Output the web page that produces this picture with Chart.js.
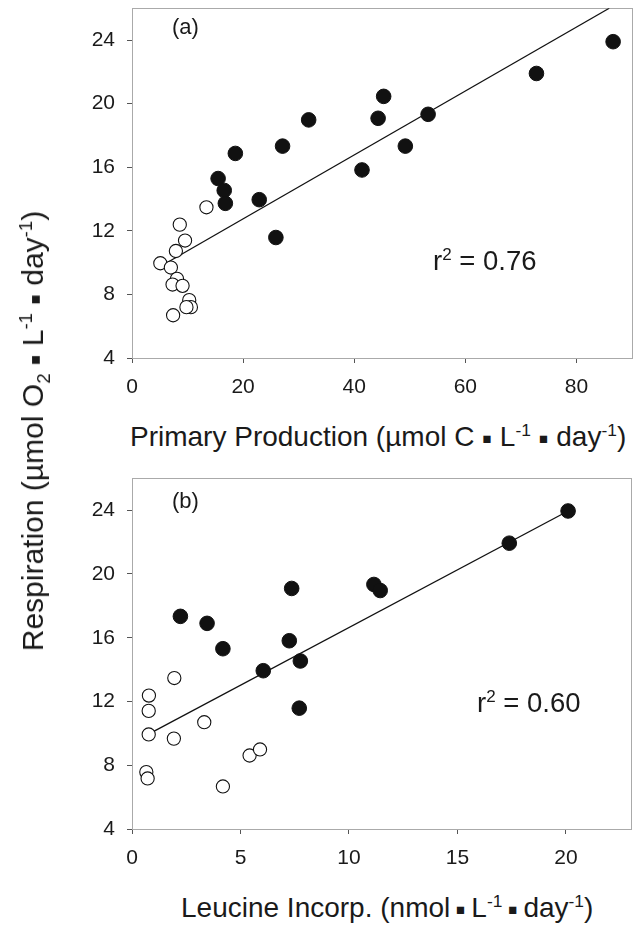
<!DOCTYPE html>
<html><head><meta charset="utf-8">
<script src="https://cdn.jsdelivr.net/npm/chart.js@4/dist/chart.umd.min.js"></script>
<style>
html,body{margin:0;padding:0;background:#fff;}
body{width:644px;height:926px;position:relative;overflow:hidden;font-family:'Liberation Sans',Arial,sans-serif;color:#1a1a1a;}
canvas{position:absolute;left:0;}
#ca{top:0;}
#cb{top:470px;}
.t{position:absolute;white-space:nowrap;line-height:1;transform:translate(-50%,-50%);}
.l{position:absolute;white-space:nowrap;line-height:1;transform:translate(0,-50%);}
sup,sub{font-size:62%;line-height:0;}
.sq{font-family:'DejaVu Sans',sans-serif;font-size:52%;vertical-align:0.2em;}
</style></head>
<body>
<canvas id="ca" width="644" height="400"></canvas>
<canvas id="cb" width="644" height="400"></canvas>

<div class="t" style="left:33px;top:431px;font-size:30px;transform:translate(-50%,-50%) rotate(-90deg);">Respiration (µmol O<sub>2</sub> <span class="sq">▪</span> L<sup>-1</sup> <span class="sq">▪</span> day<sup>-1</sup>)</div>
<div class="l" style="left:130px;top:437px;font-size:28px;">Primary Production (µmol C <span class="sq">▪</span> L<sup>-1</sup> <span class="sq">▪</span> day<sup>-1</sup>)</div>
<div class="l" style="left:181px;top:908px;font-size:28px;">Leucine Incorp. (nmol&#8201;<span class="sq">▪</span>&#8201;L<sup>-1</sup>&#8201;<span class="sq">▪</span>&#8201;day<sup>-1</sup>)</div>
<div class="l" style="left:172px;top:27px;font-size:22px;">(a)</div>
<div class="l" style="left:172px;top:501px;font-size:22px;">(b)</div>
<div class="l" style="left:433px;top:261px;font-size:27.5px;">r<sup>2</sup> = 0.76</div>
<div class="l" style="left:477px;top:703px;font-size:27.5px;">r<sup>2</sup> = 0.60</div>

<script>
// ---- Panel (a): Respiration vs Primary Production ----
const ppOpenX = [13.4, 8.6, 9.55, 7.9, 5.1, 7.0, 8.1, 7.3, 9.1, 10.3, 10.6, 9.8, 7.4];
const ppOpenY = [13.48, 12.39, 11.39, 10.73, 9.96, 9.69, 8.98, 8.62, 8.54, 7.64, 7.2, 7.2, 6.69];
const ppFillX = [86.6, 72.8, 45.3, 31.8, 44.3, 53.3, 27.1, 49.2, 18.6, 41.4, 15.5, 16.6, 16.8, 22.9, 25.9];
const ppFillY = [23.9, 21.9, 20.46, 18.98, 19.08, 19.33, 17.33, 17.33, 16.87, 15.83, 15.29, 14.54, 13.73, 13.96, 11.58];
const ppFitX = [6.5, 85.9];
const ppFitY = [10.04, 26.0];
const ppXTicks = [0, 20, 40, 60, 80];

// ---- Panel (b): Respiration vs Leucine Incorporation ----
const leuOpenX = [1.95, 0.78, 0.77, 0.77, 1.93, 3.33, 5.42, 5.9, 0.66, 0.72, 4.19];
const leuOpenY = [13.47, 12.37, 11.41, 9.93, 9.67, 10.7, 8.61, 8.99, 7.57, 7.17, 6.67];
const leuFillX = [20.1, 17.39, 11.15, 11.44, 7.36, 2.23, 3.46, 4.19, 7.25, 7.76, 6.05, 7.71];
const leuFillY = [23.95, 21.93, 19.34, 18.96, 19.09, 17.34, 16.9, 15.31, 15.81, 14.54, 13.93, 11.58];
const leuFitX = [0.98, 20.1];
const leuFitY = [10.11, 23.95];
const leuXTicks = [0, 5, 10, 15, 20];

const respYTicks = [4, 8, 12, 16, 20, 24];

const pts = (xs, ys) => xs.map((x, i) => ({x: x, y: ys[i]}));

Chart.defaults.font.family = "'Liberation Sans', Arial, sans-serif";
Chart.defaults.color = '#1a1a1a';

const framePlugin = {
  id: 'frame',
  beforeDatasetsDraw(chart) {
    const a = chart.chartArea, ctx = chart.ctx;
    ctx.save();
    ctx.strokeStyle = '#aaaaaa';
    ctx.lineWidth = 1;
    ctx.strokeRect(Math.round(a.left) + 0.5, Math.round(a.top) + 0.5, Math.round(a.right - a.left), Math.round(a.bottom - a.top));
    ctx.restore();
  }
};

function makeChart(id, openX, openY, fillX, fillY, fitX, fitY, xMin, xMax, xTicks, pad, xH) {
  return new Chart(document.getElementById(id), {
    type: 'scatter',
    data: {
      datasets: [
        {data: pts(fillX, fillY), pointRadius: 7.3, pointBackgroundColor: '#111', pointBorderColor: '#111', pointBorderWidth: 1},
        {data: pts(openX, openY), pointRadius: 6.6, pointBackgroundColor: '#fff', pointBorderColor: '#111', pointBorderWidth: 1.1},
        {type: 'line', data: pts(fitX, fitY), showLine: true, pointRadius: 0, borderColor: '#111', borderWidth: 1.3, fill: false}
      ]
    },
    options: {
      responsive: false, animation: false, devicePixelRatio: 1,
      layout: {padding: pad},
      plugins: {legend: {display: false}, tooltip: {enabled: false}},
      scales: {
        x: {
          type: 'linear', min: xMin, max: xMax,
          afterBuildTicks: s => { s.ticks = xTicks.map(v => ({value: v})); },
          afterFit: s => { s.height = xH; s.paddingLeft = 0; s.paddingRight = 0; },
          ticks: {font: {size: 21}, padding: 12, color: '#1a1a1a', maxRotation: 0, autoSkip: false},
          grid: {drawOnChartArea: false, drawTicks: true, tickLength: 5, tickColor: '#555', tickWidth: 1},
          border: {display: true, color: '#aaaaaa', width: 1}
        },
        y: {
          type: 'linear', min: 4, max: 26,
          afterBuildTicks: s => { s.ticks = respYTicks.map(v => ({value: v})); },
          afterFit: s => { s.width = 132; s.paddingTop = 0; s.paddingBottom = 0; },
          ticks: {font: {size: 21}, padding: 12, color: '#1a1a1a', autoSkip: false},
          grid: {drawOnChartArea: false, drawTicks: true, tickLength: 5, tickColor: '#555', tickWidth: 1},
          border: {display: true, color: '#aaaaaa', width: 1}
        }
      }
    },
    plugins: [framePlugin]
  });
}

makeChart('ca', ppOpenX, ppOpenY, ppFillX, ppFillY, ppFitX, ppFitY, 0, 90, ppXTicks, {top: 7, right: 12, left: 0, bottom: 0}, 42);
makeChart('cb', leuOpenX, leuOpenY, leuFillX, leuFillY, leuFitX, leuFitY, 0, 23, leuXTicks, {top: 8, right: 13, left: 0, bottom: 0}, 41);
</script>
</body></html>
